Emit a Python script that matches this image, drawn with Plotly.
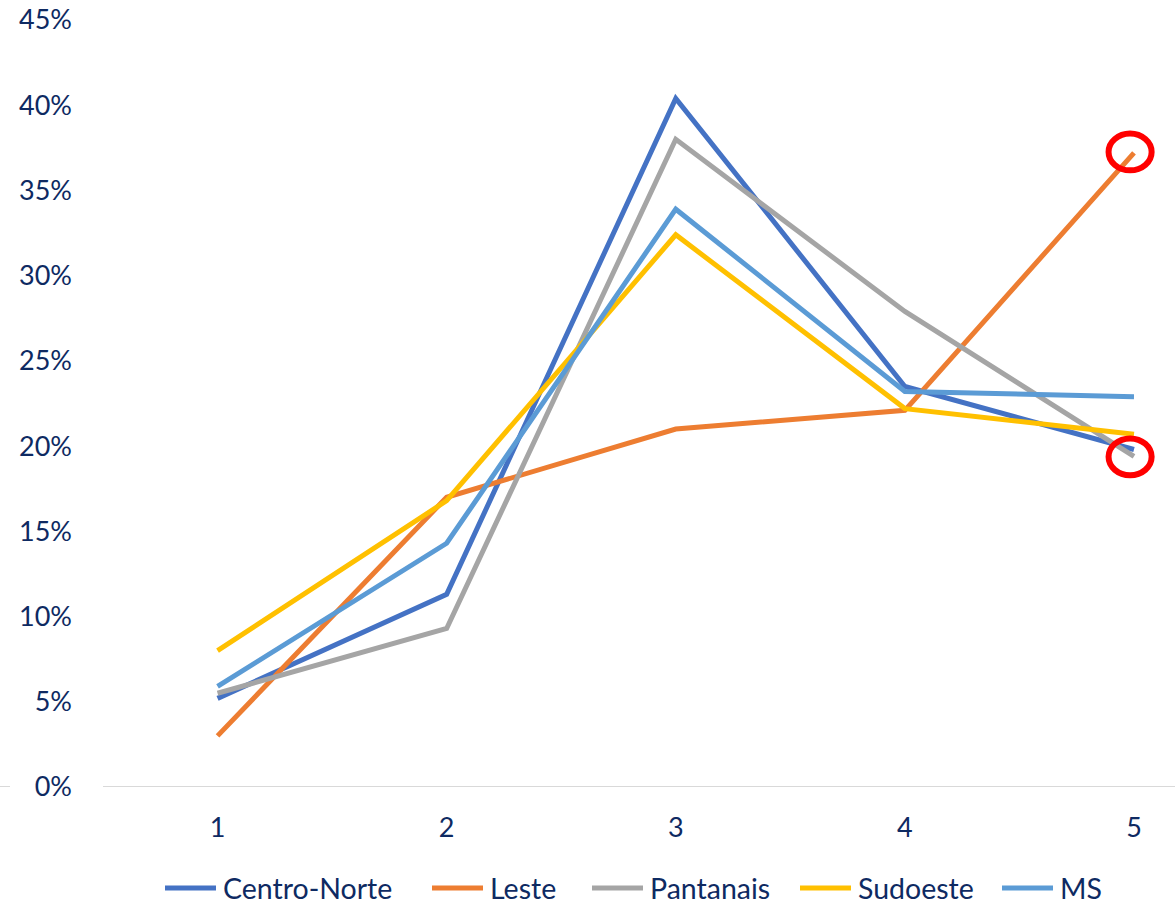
import plotly.graph_objects as go

# Categories on the x axis
categories = [1, 2, 3, 4, 5]

# Share per category for each region
centro_norte = [0.052, 0.113, 0.404, 0.235, 0.198]
leste = [0.030, 0.170, 0.210, 0.221, 0.372]
pantanais = [0.055, 0.093, 0.380, 0.279, 0.194]
sudoeste = [0.080, 0.168, 0.324, 0.222, 0.207]
ms = [0.059, 0.143, 0.339, 0.232, 0.229]

y_ticks = [0, 0.05, 0.10, 0.15, 0.20, 0.25, 0.30, 0.35, 0.40, 0.45]
y_tick_text = ["0%", "5%", "10%", "15%", "20%", "25%", "30%", "35%", "40%", "45%"]

series = [
    ("Centro-Norte", centro_norte, "#4472C4"),
    ("Leste", leste, "#ED7D31"),
    ("Pantanais", pantanais, "#A5A5A5"),
    ("Sudoeste", sudoeste, "#FFC000"),
    ("MS", ms, "#5B9BD5"),
]

FONT = "Lato"
TEXT_COLOR = "#0E2A62"

W, H = 1175, 906
M_L, M_R, M_T, M_B = 103, 0, 20, 119
PLOT_W = W - M_L - M_R
PLOT_H = H - M_T - M_B


def px_x(px):
    """Horizontal pixel -> paper coordinate."""
    return (px - M_L) / PLOT_W


def px_y(py):
    """Vertical pixel (from top) -> paper coordinate."""
    return (H - M_B - py) / PLOT_H


fig = go.Figure()
for name, values, color in series:
    fig.add_trace(go.Scatter(
        x=categories, y=values, name=name, mode="lines",
        line=dict(color=color, width=5), showlegend=False,
    ))

# Zero baseline, broken where the 0% label sits
fig.add_shape(type="line", xref="paper", yref="y", x0=px_x(0), x1=px_x(10), y0=0, y1=0,
              line=dict(color="#D9D9D9", width=2), layer="below")
fig.add_shape(type="line", xref="paper", yref="y", x0=0.0, x1=1.0, y0=0, y1=0,
              line=dict(color="#D9D9D9", width=2), layer="below")

# Highlight rings at the last category
for cx, cy in [(4.983, 0.3726), (4.983, 0.1937)]:
    fig.add_shape(type="circle", xref="x", yref="y",
                  x0=cx - 0.094, x1=cx + 0.094, y0=cy - 0.0108, y1=cy + 0.0108,
                  line=dict(color="#FF0000", width=6))

# Legend row along the bottom: line swatch followed by the series name
legend_y = 888
legend_starts = [163, 430, 590, 798, 1000]
for (name, _, color), start in zip(series, legend_starts):
    fig.add_shape(type="line", xref="paper", yref="paper",
                  x0=px_x(start + 2), x1=px_x(start + 53), y0=px_y(legend_y), y1=px_y(legend_y),
                  line=dict(color=color, width=5))
    fig.add_annotation(xref="paper", yref="paper", x=px_x(start + 58), y=px_y(legend_y),
                       text=name, showarrow=False, xanchor="left", yanchor="middle",
                       font=dict(family=FONT, size=28.5, color=TEXT_COLOR))

fig.update_layout(
    width=W, height=H,
    margin=dict(l=M_L, r=M_R, t=M_T, b=M_B),
    paper_bgcolor="white", plot_bgcolor="white",
    font=dict(family=FONT, size=27, color=TEXT_COLOR),
    showlegend=False,
    xaxis=dict(range=[0.5, 5.179], tickvals=categories, showgrid=False, zeroline=False,
               showline=False, ticks="", ticklabelstandoff=22,
               tickfont=dict(size=27, color=TEXT_COLOR)),
    yaxis=dict(range=[0, 0.45], tickvals=y_ticks, ticktext=y_tick_text, showgrid=False,
               zeroline=False, showline=False, ticks="", ticklabelstandoff=30,
               tickfont=dict(size=27, color=TEXT_COLOR)),
)

fig.write_html("out.html")
